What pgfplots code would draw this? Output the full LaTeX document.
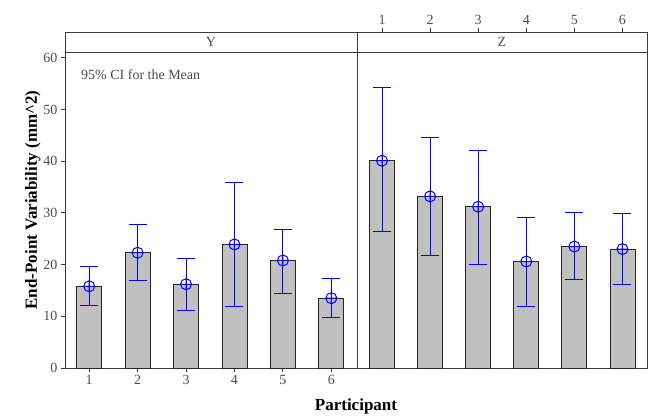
\documentclass[border=0pt]{standalone}
\usepackage{fontspec}
\setmainfont{Liberation Serif}
\usepackage{pgfplots}
\usepackage{pgfplotstable}
\pgfplotsset{compat=1.18}

\definecolor{barfill}{RGB}{192,192,192}
\definecolor{frame}{RGB}{60,60,60}
\definecolor{cibl}{RGB}{0,0,255}

% participant, mean, lower and upper end of the 95% CI
\pgfplotstableread{
x mean lo hi
1 15.8 12.1 19.6
2 22.3 17.0 27.7
3 16.2 11.1 21.1
4 23.9 11.9 35.8
5 20.8 14.4 26.8
6 13.5  9.7 17.3
}\dataY

\pgfplotstableread{
x mean lo hi
1 40.1 26.4 54.2
2 33.2 21.7 44.5
3 31.2 20.1 42.0
4 20.6 11.9 29.1
5 23.5 17.2 30.0
6 23.0 16.2 29.8
}\dataZ

\begin{document}
\begin{tikzpicture}
\path[use as bounding box] (-65pt,-48pt) rectangle (605pt,368pt);
\pgfplotsset{
  panel/.style={
    scale only axis, height=336pt,
    ymin=0, ymax=65,
    xtick={1,...,6},
    tick align=outside,
    major tick length=4pt,
    axis line style={frame, line width=0.9pt},
    tick style={frame, line width=0.9pt},
    every tick label/.append style={font=\fontsize{14}{16}\selectfont, text=black!70},
    /pgf/number format/assume math mode=true,
    clip=false,
  },
  bars/.style={ybar, bar width=25pt, fill=barfill, draw=black!85, line width=0.9pt},
  ci/.style={only marks, draw=cibl, mark=oplus, mark size=5.5pt,
    mark options={draw=cibl, fill opacity=0, line width=1pt},
    error bars/.cd, y dir=both, y explicit,
    error bar style={line width=1pt, draw=cibl},
    error mark options={rotate=90, mark size=9pt, line width=1pt, draw=cibl}},
}

% ---- panel Y ----
\begin{axis}[panel, at={(0pt,0pt)}, anchor=south west, width=292pt,
    xmin=0.5, xmax=6.53,
    ytick={0,10,...,60}, ytick pos=left,
    xtick pos=left, xticklabel pos=left,
    ylabel={End-Point Variability (mm\^{}2)},
    ylabel style={font=\bfseries\fontsize{17}{20}\selectfont, yshift=-4pt}]
\addplot[bars] table[x=x, y=mean] {\dataY};
\addplot[ci] table[x=x, y=mean,
    y error plus expr=\thisrow{hi}-\thisrow{mean},
    y error minus expr=\thisrow{mean}-\thisrow{lo}] {\dataY};
\draw[frame, line width=0.9pt] ({rel axis cs:0,0}|-{axis cs:1,61.1}) -- ({rel axis cs:1,0}|-{axis cs:1,61.1});
\node[font=\fontsize{14}{16}\selectfont, text=black!70] at ({rel axis cs:0.5,0}|-{axis cs:1,63.1}) {Y};
\node[font=\fontsize{14}{16}\selectfont, text=black!70, anchor=west, inner sep=0pt] at (axis cs:0.83,56.7) {95\% CI for the Mean};
\end{axis}

% ---- panel Z ----
\begin{axis}[panel, at={(292pt,0pt)}, anchor=south west, width=290pt,
    xmin=0.48, xmax=6.51,
    ytick=\empty,
    xtick pos=right, xticklabel pos=right]
\addplot[bars] table[x=x, y=mean] {\dataZ};
\addplot[ci] table[x=x, y=mean,
    y error plus expr=\thisrow{hi}-\thisrow{mean},
    y error minus expr=\thisrow{mean}-\thisrow{lo}] {\dataZ};
\draw[frame, line width=0.9pt] ({rel axis cs:0,0}|-{axis cs:1,61.1}) -- ({rel axis cs:1,0}|-{axis cs:1,61.1});
\node[font=\fontsize{14}{16}\selectfont, text=black!70] at ({rel axis cs:0.5,0}|-{axis cs:1,63.1}) {Z};
\end{axis}

\node[font=\bfseries\fontsize{17}{20}\selectfont] at (291pt,-38pt) {Participant};
\end{tikzpicture}
\end{document}
